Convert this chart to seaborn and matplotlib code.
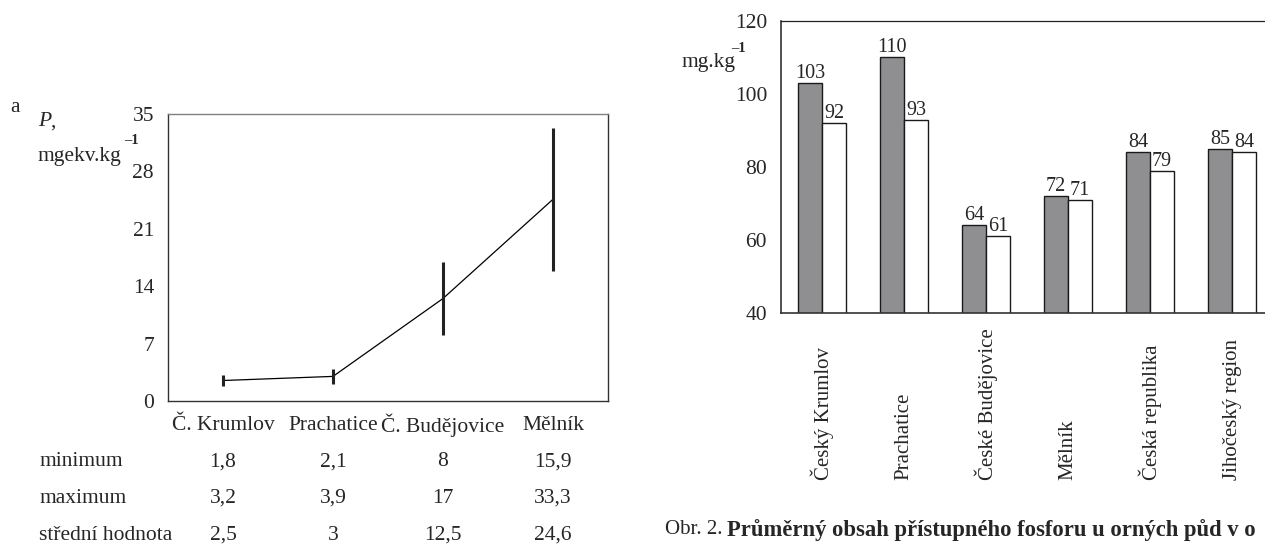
import numpy as np
import pandas as pd
import matplotlib
matplotlib.use("Agg")
import matplotlib.pyplot as plt
import matplotlib.transforms as mtransforms
import seaborn as sns

# ---- data: left panel ----
districts_short = ["Č. Krumlov", "Prachatice", "Č. Budějovice", "Mělník"]
p_min = [1.8, 2.1, 8, 15.9]
p_max = [3.2, 3.9, 17, 33.3]
p_mean = [2.5, 3, 12.5, 24.6]
min_txt = ["1,8", "2,1", "8", "15,9"]
max_txt = ["3,2", "3,9", "17", "33,3"]
mean_txt = ["2,5", "3", "12,5", "24,6"]
row_labels = ["minimum", "maximum", "střední hodnota"]
left_yticks = [0, 7, 14, 21, 28, 35]

# ---- data: right panel ----
regions = ["Český Krumlov", "Prachatice", "České Budějovice", "Mělník",
           "Česká republika", "Jihočeský region"]
series_a = [103, 110, 64, 72, 84, 85]
series_b = [92, 93, 61, 71, 79, 84]
right_yticks = [40, 60, 80, 100, 120]
caption_prefix = "Obr. 2. "
caption_bold = "Průměrný obsah přístupného fosforu u orných půd v o"

sns.set_theme(style="white")
plt.rcParams["font.family"] = ["Liberation Serif", "DejaVu Serif"]

W, H = 1265, 546
FS = 15.5
fig = plt.figure(figsize=(W / 100, H / 100), dpi=100)

def ax_rect(x0, y0, x1, y1):
    return [x0 / W, 1 - y1 / H, (x1 - x0) / W, (y1 - y0) / H]

def fy(py):
    return 1 - py / H

# ================= left panel =================
axL = fig.add_axes(ax_rect(168, 114, 608, 401))
xpos = np.arange(len(districts_short))
sns.lineplot(x=xpos, y=p_mean, ax=axL, color="black", linewidth=0.9)
axL.vlines(xpos, p_min, p_max, color="#222222", linewidth=2.2)
axL.set_xlim(-0.5, 3.5)
axL.set_ylim(0, 35)
axL.set_yticks(left_yticks)
axL.set_yticklabels([str(t) for t in left_yticks], fontsize=FS)
axL.set_xticks([0.5, 1.5, 2.5])
axL.set_xticklabels([])
axL.tick_params(axis="both", direction="in", length=3, width=0.8, color="#333333")
axL.tick_params(axis="y", pad=10)
for s in axL.spines.values():
    s.set_color("#333333")
    s.set_linewidth(1.0)
axL.spines["top"].set_color("#808080")
axL.set_xlabel("")
axL.set_ylabel("")
# category labels
trL = mtransforms.blended_transform_factory(axL.transData, fig.transFigure)
for i, name in enumerate(districts_short):
    axL.text(i, fy(425), name, transform=trL, ha="center", va="center", fontsize=FS)
# table
for r, (lab, vals) in enumerate(zip(row_labels, [min_txt, max_txt, mean_txt])):
    yy = fy(462 + 36.5 * r)
    fig.text(39 / W, yy, lab, ha="left", va="center", fontsize=FS)
    for i, v in enumerate(vals):
        axL.text(i, yy, v, transform=trL, ha="center", va="center", fontsize=FS)
fig.text(10 / W, fy(108), "a", ha="left", va="center", fontsize=FS)
fig.text(38 / W, fy(122), "P", ha="left", va="center", fontsize=FS, style="italic")
fig.text(50 / W, fy(122), ",", ha="left", va="center", fontsize=FS)
fig.text(38 / W, fy(157), "mgekv.kg", ha="left", va="center", fontsize=FS)
fig.text(124 / W, fy(141), "–1", ha="left", va="center", fontsize=10.5, weight="bold")

# ================= right panel =================
axR = fig.add_axes(ax_rect(781, 21, 1273, 313))
df = pd.DataFrame({
    "region": regions * 2,
    "value": series_a + series_b,
    "series": ["a"] * len(regions) + ["b"] * len(regions),
})
sns.barplot(data=df, x="region", y="value", hue="series",
            palette=["#8e8e93", "white"], edgecolor="#1a1a1a", linewidth=1.0,
            width=0.585, gap=0, legend=False, ax=axR, errorbar=None)
axR.set_ylim(40, 120)
axR.set_xlim(-0.5, 5.5)
axR.set_yticks(right_yticks)
axR.set_yticklabels([str(t) for t in right_yticks], fontsize=FS)
axR.set_xticks(np.arange(0.5, 5.0, 1.0))
axR.set_xticklabels([])
axR.tick_params(axis="both", direction="in", length=3, width=0.8, color="#333333")
axR.tick_params(axis="y", pad=10)
axR.set_xlabel("")
axR.set_ylabel("")
for s in axR.spines.values():
    s.set_color("#333333")
    s.set_linewidth(1.2)
axR.spines["top"].set_color("#222222")
axR.spines["top"].set_linewidth(0.9)
axR.spines["right"].set_visible(False)
# value labels
for cont in axR.containers:
    axR.bar_label(cont, labels=[f"{int(v)}" for v in cont.datavalues],
                  fontsize=14.5, padding=0)
# rotated category labels
trR = mtransforms.blended_transform_factory(axR.transData, fig.transFigure)
for i, name in enumerate(regions):
    axR.text(i, fy(480), name, transform=trR, rotation=90,
             ha="center", va="bottom", fontsize=15)
fig.text(682 / W, fy(62), "mg.kg", ha="left", va="center", fontsize=FS)
fig.text(731 / W, fy(48), "–1", ha="left", va="center", fontsize=10.5, weight="bold")

# caption (as far as it is visible in the reference)
fig.text(665 / W, fy(530), caption_prefix, ha="left", va="center", fontsize=15)
fig.text(727 / W, fy(530), caption_bold,
         ha="left", va="center", fontsize=16.3, weight="bold")

fig.savefig("out.png", dpi=100)
